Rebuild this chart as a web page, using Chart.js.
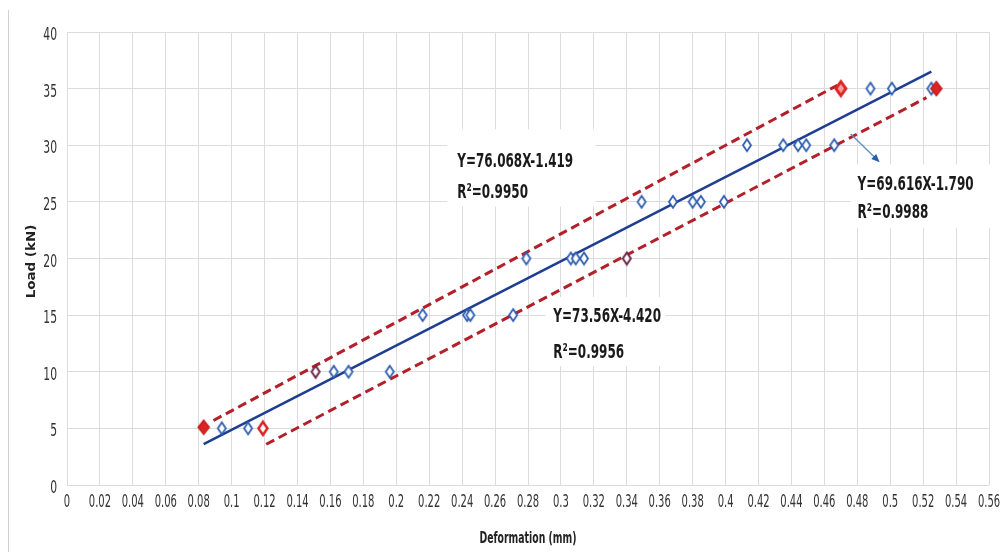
<!DOCTYPE html>
<html>
<head>
<meta charset="utf-8">
<script src="https://cdn.jsdelivr.net/npm/chart.js@4.4.1/dist/chart.umd.min.js"></script>
<style>
  html, body { margin: 0; padding: 0; background: #fff; }
  #grafico { display: block; }
</style>
</head>
<body>
<canvas id="grafico" width="1000" height="552"></canvas>
<script>
// ticks do eixo x (Deformation, mm)
const xTicks = [0, 0.02, 0.04, 0.06, 0.08, 0.1, 0.12, 0.14, 0.16, 0.18, 0.2, 0.22, 0.24, 0.26,
  0.28, 0.3, 0.32, 0.34, 0.36, 0.38, 0.4, 0.42, 0.44, 0.46, 0.48, 0.5, 0.52, 0.54, 0.56];
const yTicks = [0, 5, 10, 15, 20, 25, 30, 35, 40];

// pontos azuis (losangos vazados)
const azulX = [0.094, 0.110, 0.162, 0.171, 0.196, 0.216, 0.243, 0.245, 0.271, 0.279, 0.306, 0.309,
  0.314, 0.349, 0.368, 0.380, 0.385, 0.399, 0.413, 0.435, 0.444, 0.449, 0.466, 0.488, 0.501, 0.525];
const azulY = [5, 5, 10, 10, 10, 15, 15, 15, 15, 20, 20, 20, 20, 25, 25, 25, 25, 25, 30, 30, 30, 30, 30, 35, 35, 35];

// pontos escuros
const escuroX = [0.151, 0.340];
const escuroY = [10, 20];

// pontos vermelhos (extremos)
const vermelhoX = [0.083, 0.119, 0.470, 0.528];
const vermelhoY = [5.1, 5, 35, 35];

// linha de tendencia azul e limites tracejados (pontas)
const ajusteX = [0.083, 0.525];
const ajusteY = [3.6, 36.5];
const superiorX = [0.089, 0.468];
const superiorY = [5.7, 35.3];
const inferiorX = [0.121, 0.522];
const inferiorY = [3.6, 34.2];

// seta apontando para a equacao da direita
const setaX = [0.476, 0.4936];
const setaY = [31.0, 28.5];

// textos das equacoes
const equacoes = [
  ['Y=76.068X-1.419', 'R²=0.9950'],
  ['Y=73.56X-4.420', 'R²=0.9956'],
  ['Y=69.616X-1.790', 'R²=0.9988']
];

const tituloX = 'Deformation (mm)';
const tituloY = 'Load (kN)';

const pares = (xs, ys) => xs.map((x, i) => ({ x: x, y: ys[i] }));

function losango(w, h, stroke, fill, lw) {
  const c = document.createElement('canvas');
  c.width = Math.ceil(w + lw * 2);
  c.height = Math.ceil(h + lw * 2);
  const g = c.getContext('2d');
  const cx = c.width / 2, cy = c.height / 2;
  g.beginPath();
  g.moveTo(cx, cy - h / 2);
  g.lineTo(cx + w / 2, cy);
  g.lineTo(cx, cy + h / 2);
  g.lineTo(cx - w / 2, cy);
  g.closePath();
  g.fillStyle = fill;
  g.fill();
  g.lineWidth = lw;
  g.strokeStyle = stroke;
  g.stroke();
  return c;
}

const corAzul = '#2d5db0';
const corLinha = '#1f3e92';
const corTracejado = '#b3202a';
const corVermelho = '#dc2424';

const marcaAzul = losango(8, 12, corAzul, '#ffffff', 1.8);
const marcaEscura = losango(8, 12, '#6a2748', '#ffffff', 2);
const marcasVermelhas = [
  losango(11, 14, '#c41c1c', corVermelho, 1.5),
  losango(9, 13, corVermelho, '#ffffff', 2.5),
  losango(10, 14, corVermelho, '#f3a0a0', 3),
  losango(11, 14, '#c41c1c', corVermelho, 1.5)
];

const fonte = '"DejaVu Sans Condensed", "DejaVu Sans", sans-serif';

// texto comprimido na horizontal / esticado na vertical (fonte estreita da figura)
function texto(c, txt, x, y, font, sx, sy, align, base, rot) {
  c.save();
  c.translate(x, y);
  if (rot) c.rotate(rot);
  c.scale(sx, sy);
  c.font = font;
  c.textAlign = align;
  c.textBaseline = base;
  c.fillText(txt, 0, 0);
  c.restore();
}

// caixas brancas + equacoes + seta + rotulos dos eixos
const anotacoes = {
  id: 'anotacoes',
  beforeDraw(chart) {
    const c = chart.ctx;
    c.save();
    c.strokeStyle = '#d0d0d0';
    c.lineWidth = 1;
    c.beginPath();
    c.moveTo(8.5, 10);
    c.lineTo(8.5, 552);
    c.stroke();
    c.restore();
  },
  beforeDatasetsDraw(chart) {
    const c = chart.ctx;
    const sx = chart.scales.x, sy = chart.scales.y;
    const px = v => sx.getPixelForValue(v);
    const py = v => sy.getPixelForValue(v);
    // [caixa x0, x1, y0, y1, texto x, linha1 y, linha2 y] em unidades dos eixos
    const caixas = [
      [0.231, 0.321, 31.4, 24.6, 0.237, 28.1, 25.35],
      [0.2906, 0.3635, 16.6, 10.5, 0.2954, 14.4, 11.22],
      [0.476, 0.561, 28.3, 22.7, 0.4802, 26.06, 23.59]
    ];
    c.save();
    caixas.forEach((b, i) => {
      c.fillStyle = '#ffffff';
      c.fillRect(px(b[0]), py(b[2]), px(b[1]) - px(b[0]), py(b[3]) - py(b[2]));
      c.fillStyle = '#1a1a1a';
      texto(c, equacoes[i][0], px(b[4]), py(b[5]), 'bold 18px ' + fonte, 0.74, 1.12, 'left', 'alphabetic');
      texto(c, equacoes[i][1], px(b[4]), py(b[6]), 'bold 18px ' + fonte, 0.74, 1.12, 'left', 'alphabetic');
    });
    c.restore();
  },
  afterDatasetsDraw(chart) {
    const c = chart.ctx;
    const sx = chart.scales.x, sy = chart.scales.y;
    const x0 = sx.getPixelForValue(setaX[0]), y0 = sy.getPixelForValue(setaY[0]);
    const x1 = sx.getPixelForValue(setaX[1]), y1 = sy.getPixelForValue(setaY[1]);
    const ang = Math.atan2(y1 - y0, x1 - x0);
    c.save();
    c.strokeStyle = '#5a8fc0';
    c.lineWidth = 1.3;
    c.beginPath();
    c.moveTo(x0, y0);
    c.lineTo(x1 - 6 * Math.cos(ang), y1 - 6 * Math.sin(ang));
    c.stroke();
    c.fillStyle = '#2b5ca8';
    c.beginPath();
    c.moveTo(x1, y1);
    c.lineTo(x1 - 9 * Math.cos(ang - 0.4), y1 - 9 * Math.sin(ang - 0.4));
    c.lineTo(x1 - 9 * Math.cos(ang + 0.4), y1 - 9 * Math.sin(ang + 0.4));
    c.closePath();
    c.fill();
    c.restore();
  },
  afterDraw(chart) {
    const c = chart.ctx;
    const sx = chart.scales.x, sy = chart.scales.y;
    const area = chart.chartArea;
    c.save();
    c.fillStyle = '#333333';
    sx.ticks.forEach(t => {
      const rot = String(Number(t.value.toFixed(2)));
      texto(c, rot, sx.getPixelForValue(t.value), area.bottom + 22, '15px ' + fonte, 0.74, 1.2, 'center', 'alphabetic');
    });
    sy.ticks.forEach(t => {
      texto(c, String(t.value), 57, sy.getPixelForValue(t.value) + 8, '15px ' + fonte, 0.8, 1.2, 'right', 'alphabetic');
    });
    c.fillStyle = '#222222';
    texto(c, tituloX, (area.left + area.right) / 2, 543, 'bold 14px ' + fonte, 0.74, 1.12, 'center', 'alphabetic');
    texto(c, tituloY, 35, (area.top + area.bottom) / 2 + 3, 'bold 13px ' + fonte, 1.15, 1.0, 'center', 'alphabetic', -Math.PI / 2);
    c.restore();
  }
};

new Chart(document.getElementById('grafico'), {
  type: 'scatter',
  data: {
    datasets: [
      {
        label: 'vermelho',
        data: pares(vermelhoX, vermelhoY),
        pointStyle: marcasVermelhas,
        pointRadius: 6
      },
      {
        label: 'escuro',
        data: pares(escuroX, escuroY),
        pointStyle: marcaEscura,
        pointRadius: 6
      },
      {
        label: 'azul',
        data: pares(azulX, azulY),
        pointStyle: marcaAzul,
        pointRadius: 6
      },
      {
        label: 'ajuste',
        type: 'line',
        data: pares(ajusteX, ajusteY),
        borderColor: corLinha,
        borderWidth: 2.5,
        pointRadius: 0,
        fill: false
      },
      {
        label: 'superior',
        type: 'line',
        data: pares(superiorX, superiorY),
        borderColor: corTracejado,
        borderWidth: 3,
        borderDash: [9, 5],
        pointRadius: 0,
        fill: false
      },
      {
        label: 'inferior',
        type: 'line',
        data: pares(inferiorX, inferiorY),
        borderColor: corTracejado,
        borderWidth: 3,
        borderDash: [9, 5],
        pointRadius: 0,
        fill: false
      }
    ]
  },
  options: {
    responsive: false,
    animation: false,
    layout: { padding: { top: 32, right: 11, left: 0, bottom: 0 } },
    plugins: {
      legend: { display: false },
      tooltip: { enabled: false }
    },
    scales: {
      x: {
        type: 'linear',
        min: 0,
        max: 0.56,
        afterBuildTicks: s => { s.ticks = xTicks.map(v => ({ value: v })); },
        afterFit: s => { s.height = 67; },
        grid: { color: '#dcdcdc', drawTicks: false },
        border: { display: false },
        ticks: { display: false }
      },
      y: {
        min: 0,
        max: 40,
        afterBuildTicks: s => { s.ticks = yTicks.map(v => ({ value: v })); },
        afterFit: s => { s.width = 67; },
        grid: { color: '#dcdcdc', drawTicks: false },
        border: { display: false },
        ticks: { display: false }
      }
    }
  },
  plugins: [anotacoes]
});
</script>
</body>
</html>
